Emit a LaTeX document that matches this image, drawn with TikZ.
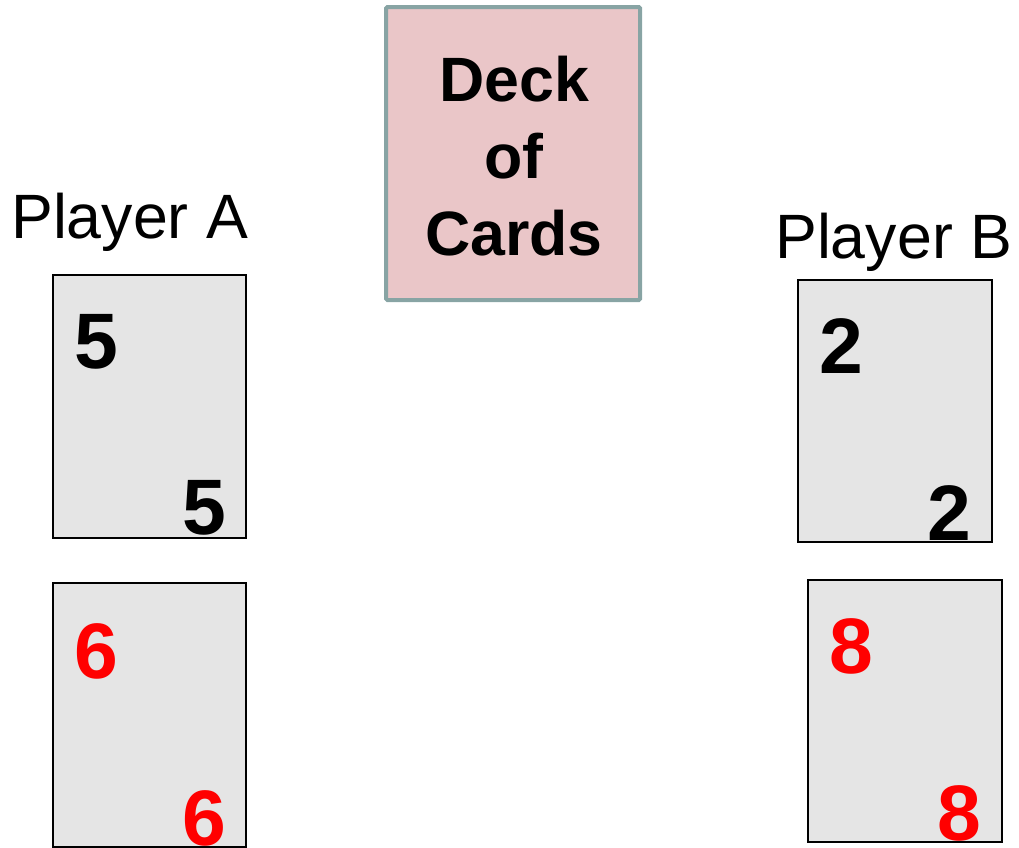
\documentclass[tikz,border=0pt]{standalone}
\usepackage{fontspec}
\setmainfont{Liberation Sans}
\definecolor{cardgray}{RGB}{229,229,229}
\definecolor{deckfill}{RGB}{234,198,200}
\definecolor{deckedge}{RGB}{136,164,164}
\definecolor{cardred}{RGB}{255,0,0}
\tikzset{
  card/.style={draw=black, fill=cardgray, line width=1.2pt},
  deckbox/.style={draw=deckedge, fill=deckfill, line width=3pt, rounded corners=1pt},
  digit/.style={inner sep=0pt, anchor=base west, font=\fontsize{59}{60}\selectfont\bfseries},
  player/.style={inner sep=0pt, anchor=base west, font=\fontsize{47}{50}\selectfont},
  decktext/.style={align=center, inner sep=0pt, font=\fontsize{47}{58}\selectfont\bfseries}
}
\begin{document}
\begin{tikzpicture}[x=0.75pt,y=-0.75pt]
\useasboundingbox (0,0) rectangle (1019,847);
% deck
\draw[deckbox] (386,7) rectangle (640,300);
\node[decktext] (deck) at (514,156) {Deck\\of\\Cards};
% players
\node[player] (pa) at (11,238) {Player A};
\node[player] (pb) at (775,258) {Player B};
% cards player A
\draw[card] (53,275) rectangle (246,538);
\draw[card] (53,583) rectangle (246,847);
% cards player B
\draw[card] (798,280) rectangle (992,542);
\draw[card] (808,580) rectangle (1002,842);
% digits
\node[digit] (a1t) at (74,368) {5};
\node[digit] (a1b) at (182,534) {5};
\node[digit, text=cardred] (a2t) at (74,678) {6};
\node[digit, text=cardred] (a2b) at (182,845) {6};
\node[digit] (b1t) at (819,373) {2};
\node[digit] (b1b) at (927,540) {2};
\node[digit, text=cardred] (b2t) at (829,673) {8};
\node[digit, text=cardred] (b2b) at (937,840) {8};
\end{tikzpicture}
\end{document}
